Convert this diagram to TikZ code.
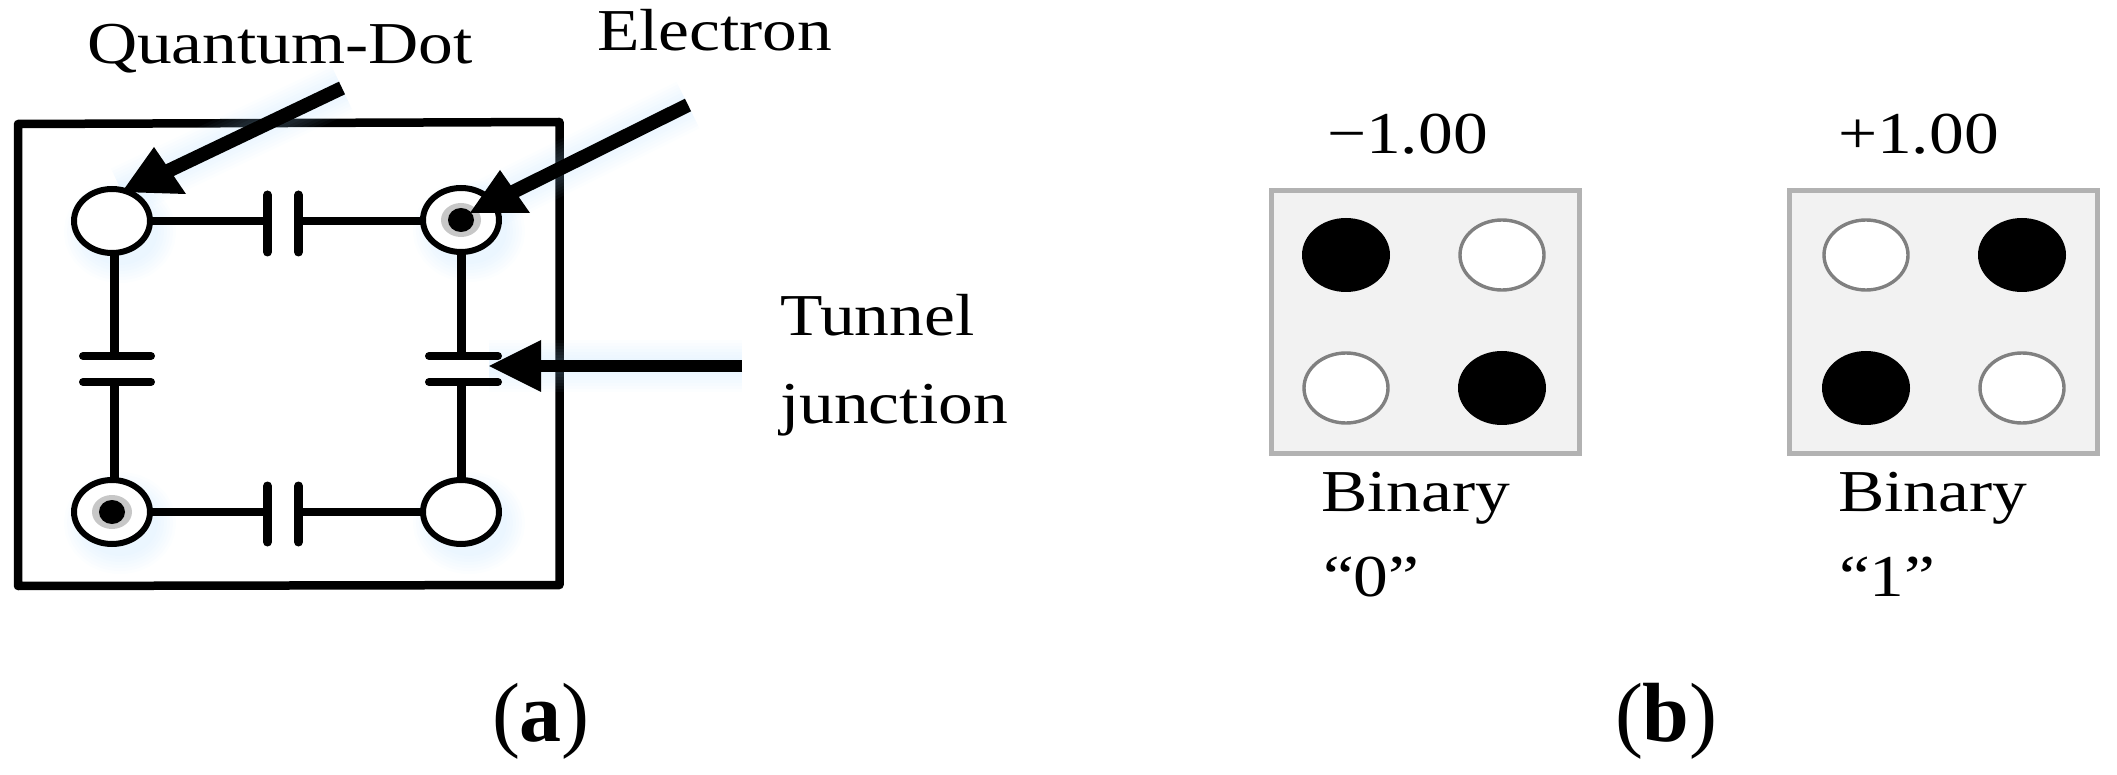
\documentclass[tikz,border=0pt]{standalone}
\usepackage{graphicx}
\usepackage{fontspec}
\setmainfont{Liberation Serif}
\usetikzlibrary{arrows.meta,shapes.geometric}
\newcommand{\wtxt}[1]{\scalebox{1.17}[1]{#1}}
\tikzset{
  lbl/.style={anchor=base west,inner sep=0pt,outer sep=0pt,font=\fontsize{29.7}{44}\selectfont},
  sublabel/.style={anchor=base west,inner sep=0pt,outer sep=0pt,font=\fontsize{42}{46}\selectfont},
  qdot/.style={ellipse,draw=black,line width=3pt,fill=white,minimum width=38pt,minimum height=32pt,inner sep=0pt,outer sep=0pt},
  hwire/.style={line width=3.75pt},
  vwire/.style={line width=4.5pt},
  vplate/.style={line width=4.5pt,line cap=round},
  hplate/.style={line width=4pt,line cap=round},
  ptr/.style={line width=6.25pt},
  diag/.style={line width=7pt},
  glow/.style={draw=blue!45!cyan!35,opacity=.035},
  cell/.style={draw=black!30,line width=2.7pt,fill=black!5,minimum width=154pt,minimum height=131.5pt,inner sep=0pt},
  full/.style={ellipse,fill=black,minimum width=44pt,minimum height=37pt,inner sep=0pt,outer sep=0pt},
  void/.style={ellipse,draw=black!50,line width=1.7pt,fill=white,minimum width=42pt,minimum height=35pt,inner sep=0pt,outer sep=0pt},
  ring/.style={ellipse,fill=black!22,minimum width=20pt,minimum height=17pt,inner sep=0pt},
  core/.style={ellipse,fill=black,minimum width=13pt,minimum height=12pt,inner sep=0pt}
}
\begin{document}
\begin{tikzpicture}[x=0.5pt,y=-0.5pt]
\useasboundingbox (0,0) rectangle (2117,775);
% frame
\draw[line width=4.25pt,line join=round] (18,124) -- (559.5,122) -- (559.5,585) -- (18,586) -- cycle;
% named points
\coordinate (qs) at (342,88);   \coordinate (qb) at (168,171);  \coordinate (qt) at (122,192);
\coordinate (es) at (688,105);  \coordinate (eb) at (513,192);  \coordinate (et) at (470,213);
\coordinate (ts) at (742,366);  \coordinate (tb) at (541,366);  \coordinate (tt) at (489,366);
% soft glow
\foreach \w in {8,11,14,17,20,23,26}{
  \begin{scope}[shift={(8,11)}]
    \draw[glow,line width=\w pt] (qs) -- (qt);
    \draw[glow,line width=\w pt] (es) -- (et);
    \draw[glow,line width=\w pt] (ts) -- (tt);
    \draw[glow,line width=\w pt] (112,221) ellipse (30 and 25);
    \draw[glow,line width=\w pt] (461,220) ellipse (30 and 25);
    \draw[glow,line width=\w pt] (112,512) ellipse (30 and 25);
    \draw[glow,line width=\w pt] (461,512) ellipse (30 and 25);
  \end{scope}
}
% plates
\coordinate (c1a) at (267.5,221); \coordinate (c1b) at (298.5,221);
\coordinate (c2a) at (114,356);   \coordinate (c2b) at (114,382);
\coordinate (c3a) at (461,356);   \coordinate (c3b) at (461,382);
\coordinate (c4a) at (267.5,512); \coordinate (c4b) at (298.5,512);
% wires under dots
\draw[vwire] (114,221) -- (c2a); \draw[vwire] (c2b) -- (114,512);
\draw[vwire] (461,220) -- (c3a); \draw[vwire] (c3b) -- (461,512);
% dots
\node[qdot] (d1) at (112,221) {};
\node[qdot] (d2) at (461,220) {};
\node[qdot] (d3) at (112,512) {};
\node[qdot] (d4) at (461,512) {};
\node[ring] (r2) at (461,220) {}; \node[core] (e2) at (461,220) {};
\node[ring] (r3) at (112,512) {}; \node[core] (e3) at (112,512) {};
% wires
\draw[hwire] (d1) -- (c1a); \draw[hwire] (c1b) -- (c1b -| d2.west);
\draw[hwire] (d3) -- (c4a); \draw[hwire] (c4b) -- (d4);
\draw[vplate] (267.5,195) -- (267.5,252);
\draw[vplate] (298.5,195) -- (298.5,252);
\draw[vplate] (267.5,486) -- (267.5,542);
\draw[vplate] (298.5,486) -- (298.5,542);
\draw[hplate] (83,356) -- (151,356);
\draw[hplate] (83,382) -- (151,382);
\draw[hplate] (429,356) -- (498,356);
\draw[hplate] (429,382) -- (498,382);
% arrows
\draw[diag] (qs) -- (qb);
\fill (qt) -- (154,147) -- (186,194) -- cycle;
\draw[diag] (es) -- (eb);
\fill (et) -- (500,170) -- (530,213) -- cycle;
\draw[ptr] (ts) -- (tb);
\fill (tt) -- (541,340) -- (541,392) -- cycle;
% labels (a)
\node[lbl] (lq) at (87,64) {\wtxt{Quantum-Dot}};
\node[lbl] (le) at (597,51) {\wtxt{Electron}};
\node[lbl] (lt1) at (780,336) {\wtxt{Tunnel}};
\node[lbl] (lt2) at (780,423) {\wtxt{junction}};
\node[sublabel] (ca) at (492,741) {(\textbf{a})};
% (b)
\node[cell] (b1) at (1425.5,322) {};
\node[cell] (b2) at (1943.5,322) {};
\node[full] (f1) at (1346,255) {};
\node[void] (v1) at (1502,255) {};
\node[void] (v2) at (1346,388) {};
\node[full] (f2) at (1502,388) {};
\node[void] (v3) at (1866,255) {};
\node[full] (f3) at (2022,255) {};
\node[full] (f4) at (1866,388) {};
\node[void] (v4) at (2022,388) {};
\node[lbl] (m1) at (1327,154) {\wtxt{−1.00}};
\node[lbl] (m2) at (1838,154) {\wtxt{+1.00}};
\node[lbl] (n1) at (1321,511) {\wtxt{Binary}};
\node[lbl] (n2) at (1323,596) {\wtxt{“0”}};
\node[lbl] (n3) at (1838,511) {\wtxt{Binary}};
\node[lbl] (n4) at (1839,596) {\wtxt{“1”}};
\node[sublabel] (cb) at (1615,741) {(\textbf{b})};
\end{tikzpicture}
\end{document}
